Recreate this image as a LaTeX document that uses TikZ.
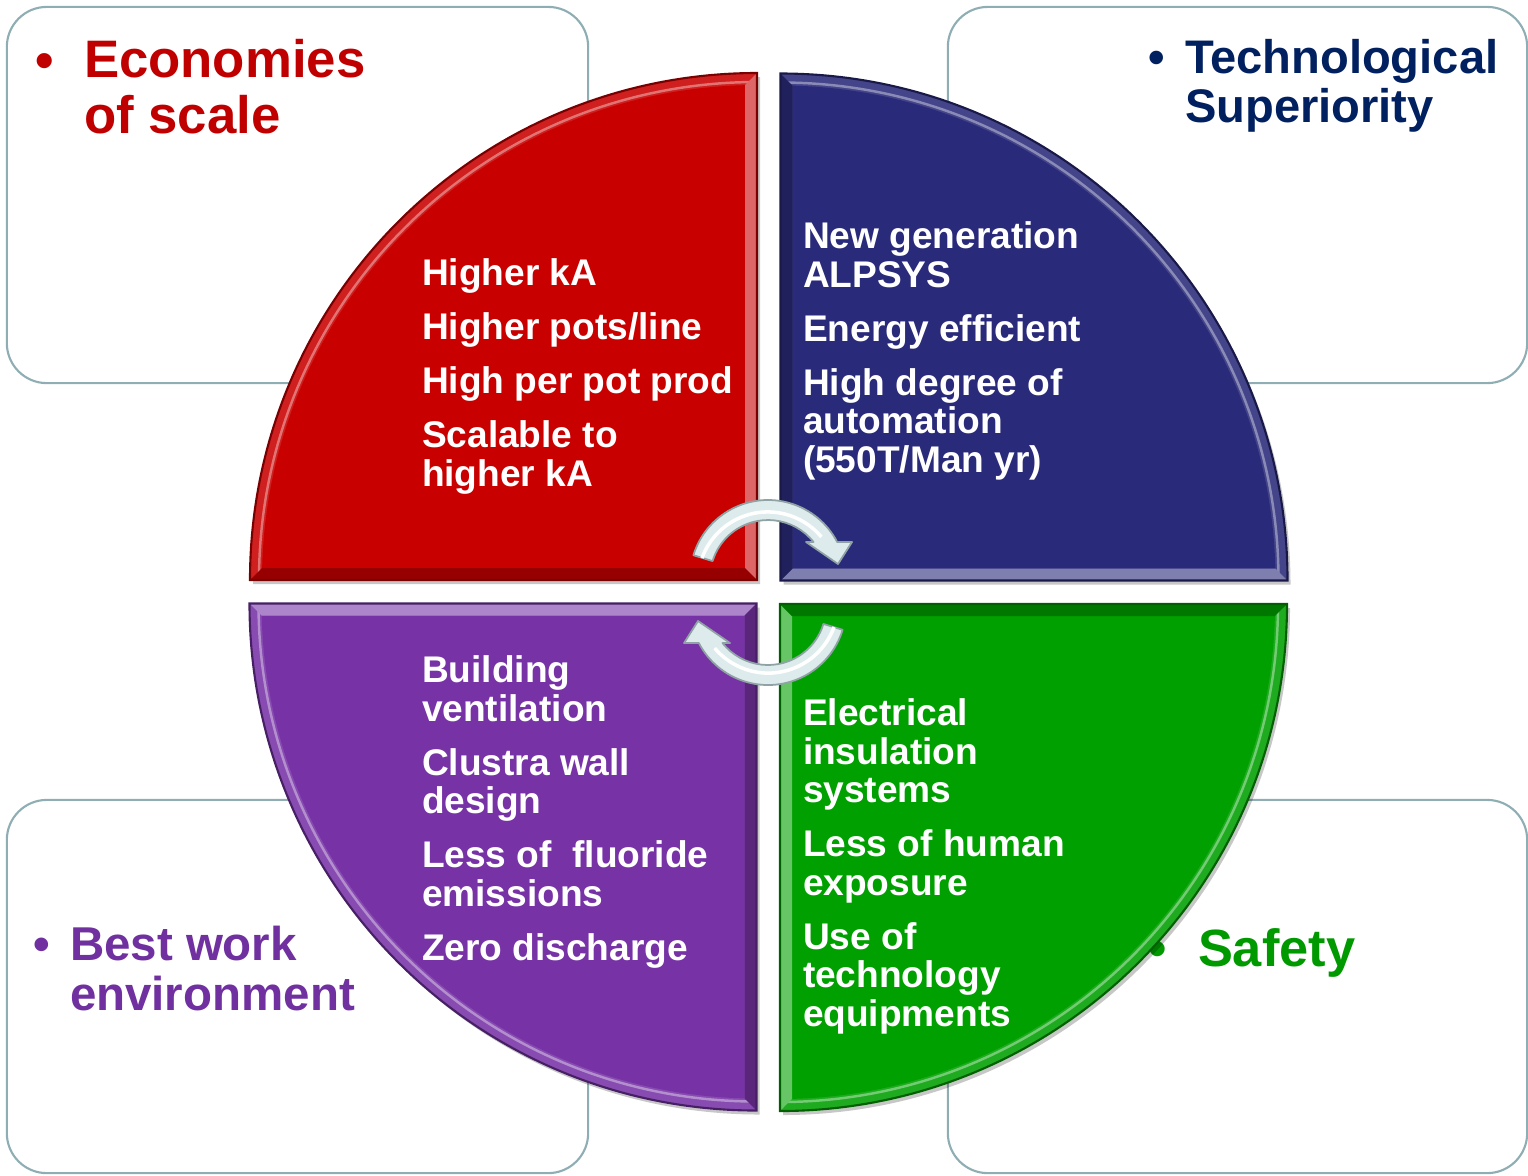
\documentclass[tikz,border=0pt]{standalone}
\usepackage{fontspec}
\setmainfont{Liberation Sans}
\usepackage{xcolor}
\usepackage{tikz}

\definecolor{econred}{HTML}{C00000}
\definecolor{quadred}{HTML}{C80000}
\definecolor{technavy}{HTML}{002060}
\definecolor{quadblue}{HTML}{2A2A7A}
\definecolor{workpurple}{HTML}{7030A0}
\definecolor{quadpurple}{HTML}{7733A6}
\definecolor{safegreen}{HTML}{009900}
\definecolor{quadgreen}{HTML}{00A000}
\definecolor{panelline}{HTML}{8FAEB4}
\definecolor{arrowfill}{HTML}{DDEBEC}
\definecolor{arrowline}{HTML}{8FA2A4}

\begin{document}
\begin{tikzpicture}[x=0.01cm, y=0.01cm, every node/.style={inner sep=0pt, outer sep=0pt, anchor=base west},
    panel/.style={draw=panelline, line width=0.6pt, rounded corners=0.4cm, fill=white, anchor=center},
    itemlist/.style={font=\bfseries\fontsize{10.55}{10.95}\selectfont, text=white, align=left}]
   \useasboundingbox (0,0) rectangle (1528,-1175);
   % Corner panels (always before the quadrants!!)
   \node[panel, minimum width=5.81cm, minimum height=3.76cm] (econpanel) at (297.5,-195) {};
   \node[panel, minimum width=5.79cm, minimum height=3.76cm] (techpanel) at (1237.5,-195) {};
   \node[panel, minimum width=5.81cm, minimum height=3.73cm] (workpanel) at (297.5,-986.5) {};
   \node[panel, minimum width=5.79cm, minimum height=3.73cm] (safetypanel) at (1237.5,-986.5) {};
   % Panel titles (a node's base is its last line)
   \node[text=econred, font=\bfseries\fontsize{15}{15.65}\selectfont] (econbullet) at (35,-78) {•};
   \node[align=left, text=econred, font=\bfseries\fontsize{15}{15.65}\selectfont] (econtitle) at (84,-133) {Economies\\of scale};
   \node[text=technavy, font=\bfseries\fontsize{13.4}{13.9}\selectfont] (techbullet) at (1148,-73) {•};
   \node[align=left, text=technavy, font=\bfseries\fontsize{13.4}{13.9}\selectfont] (techtitle) at (1185,-122) {Technological\\Superiority};
   \node[text=workpurple, font=\bfseries\fontsize{13.5}{14.2}\selectfont] (workbullet) at (33,-960) {•};
   \node[align=left, text=workpurple, font=\bfseries\fontsize{13.5}{14.2}\selectfont] (worktitle) at (70,-1010) {Best work\\environment};
   \node[text=safegreen, font=\bfseries\fontsize{14.9}{15.5}\selectfont] (safetybullet) at (1148.5,-966) {•};
   \node[text=safegreen, font=\bfseries\fontsize{14.9}{15.5}\selectfont] (safetytitle) at (1198,-966) {Safety};

   % Shadows of the quadrants
   \foreach \ang in {0,-90,-180,-270}{
     \begin{scope}[shift={(3,-4)}, rotate around={\ang:(768.5,-592)}]
       \fill[black, opacity=0.22] (757,-580) -- (250,-580) arc[start angle=180, end angle=90, radius=507] -- cycle;
     \end{scope}
   }
   % Quadrants (red one, turned round the centre for the others)
   \foreach \ang/\col in {0/quadred, -90/quadblue, -180/quadgreen, -270/quadpurple}{
     \begin{scope}[rotate around={\ang:(768.5,-592)}]
       \fill[\col!88!white] (757,-580) -- (250,-580) arc[start angle=180, end angle=90, radius=507] -- cycle;
       \fill[\col] (745,-568) -- (262.15,-568) arc[start angle=178.61, end angle=91.39, radius=495] -- cycle;
       \draw[\col!55!white, line width=0.7pt] (259,-580) arc[start angle=180, end angle=90, radius=498];
       \fill[\col!60!white] (757,-73) -- (757,-580) -- (745,-568) -- (745,-85.15) -- cycle;
       \fill[\col!75!black] (250,-580) -- (757,-580) -- (745,-568) -- (262.15,-568) -- cycle;
       \draw[\col!60!black, line width=0.6pt] (757,-580) -- (250,-580) arc[start angle=180, end angle=90, radius=507] -- cycle;
     \end{scope}
   }

   % Quadrant texts
   \node[itemlist] (econlist) at (422,-486) {Higher kA\\[4.4pt]Higher pots/line\\[4.4pt]High per pot prod\\[4.4pt]Scalable to\\higher kA};
   \node[itemlist] (techlist) at (803,-472) {New generation\\ALPSYS\\[4.4pt]Energy efficient\\[4.4pt]High degree of\\automation\\(550T/Man yr)};
   \node[itemlist] (worklist) at (422,-960) {Building\\ventilation\\[4.4pt]Clustra wall\\design\\[4.4pt]Less of\ \ fluoride\\emissions\\[4.4pt]Zero discharge};
   \node[itemlist] (safetylist) at (803,-1026) {Electrical\\insulation\\systems\\[4.4pt]Less of human\\exposure\\[4.4pt]Use of\\technology\\equipments};

   % Turning arrows in the middle
   \foreach \ang in {0,180}{
     \begin{scope}[rotate around={\ang:(768,-592.5)}]
       \filldraw[fill=arrowfill, draw=arrowline, line width=0.5pt, line join=round] (693.4,-555.2) arc[start angle=163, end angle=27.5, radius=78] -- (852,-542) -- (838,-564) -- (806,-542) -- (813.5,-542) arc[start angle=38.4, end angle=163, radius=58] -- cycle;
       \draw[white, line width=1pt] (702,-558) arc[start angle=160, end angle=40, radius=70];
     \end{scope}
   }
\end{tikzpicture}
\end{document}
